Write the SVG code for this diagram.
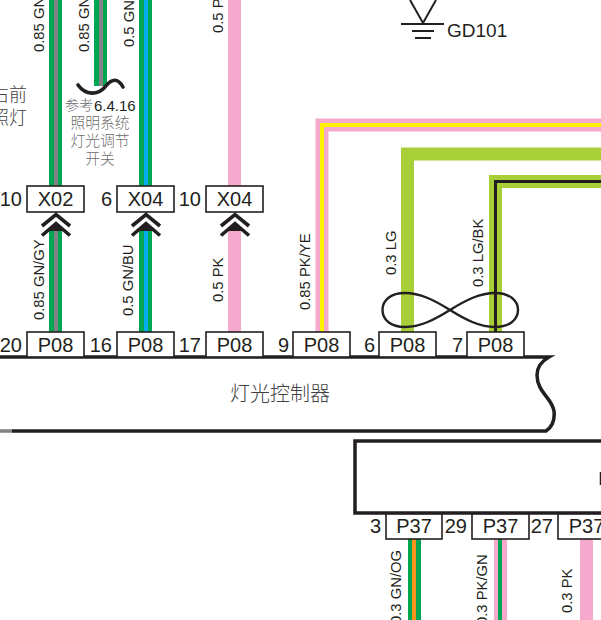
<svg xmlns="http://www.w3.org/2000/svg" width="601" height="620" viewBox="0 0 601 620">
<style>
text{font-family:"Liberation Sans",Arial,"Noto Sans CJK SC",sans-serif;fill:#231f20}
.box{fill:#fff;stroke:#231f20;stroke-width:1.6}
.name{font-size:20px;text-anchor:middle}
.pin{font-size:20px;text-anchor:end}
.lab{font-size:14.8px}
.cn{font-family:"Noto Sans CJK SC","Liberation Sans",sans-serif;font-weight:300;fill:#414042}
.w{fill:none;stroke-width:13;stroke-linejoin:miter}
.c{fill:none;stroke-width:4;stroke-linejoin:miter}
.gn{stroke:#00a651}.pk{stroke:#f5a9cc}.lg{stroke:#a8cf38}
.ln{fill:none;stroke:#231f20}
.chev{fill:none;stroke:#231f20;stroke-width:3.6}
</style>
<defs>
<g id="mate">
<path d="M-8 231 L0 222.500 L8 231 Z" fill="#231f20"/>
<path class="chev" d="M-14 226 L0 214.500 L14 226"/>
<path class="chev" d="M-14 235.500 L0 223.500 L14 235.500"/>
</g>
</defs>
<g id="connectors">
<path class="w gn" d="M55.500 0V186M55.500 231V332"/>
<path class="c" stroke="#808285" d="M56 0V186M56 231V332"/>
<path class="w gn" d="M100.500 0V86"/>
<path class="c" stroke="#808285" d="M101 0V86"/>
<path class="w gn" d="M145.500 0V186M145.500 231V332"/>
<path class="c" stroke="#00aeef" d="M146 0V186M146 231V332"/>
<path class="w pk" d="M234.500 0V186M234.500 231V332"/>
<path class="w pk" d="M322 332V125H601"/>
<path class="c" stroke="#fff200" d="M322 332V125H601"/>
<path class="w lg" d="M407.500 332V154H601"/>
<path class="w lg" d="M495.500 332V181.500H601"/>
<path class="ln" stroke-width="3" d="M495.500 332V181.500H601"/>
<path class="w gn" d="M414.500 539V620"/>
<path class="c" stroke="#f7941d" d="M414 539V620"/>
<path class="w pk" d="M500.500 539V620"/>
<path class="c" stroke="#00a651" d="M500 539V620"/>
<path class="w pk" d="M586.500 539V620"/>
<path id="squiggle" class="ln" stroke-width="3.600" stroke-linecap="round" d="M78 85C86 96 98 95 105 87C112 78 118 78 123 87"/>
<path id="twist" class="ln" stroke-width="2.400" d="M450 310C434 300 420 293 405 293C391 293 382.500 300 382.500 310C382.500 320 391 327 405 327C420 327 434 320 450 310C466 300 480 293 495 293C509 293 518 300 518 310C518 320 509 327 495 327C480 327 466 320 450 310Z"/>
<use href="#mate" x="56"/>
<use href="#mate" x="146"/>
<use href="#mate" x="235"/>
</g>
<g id="ground">
<path class="ln" stroke-width="2" d="M410 0L423 23L436 0"/>
<path class="ln" stroke-width="2" d="M401 24H444M412 31H434M415 38H431"/>
<text x="447" y="37" font-size="19">GD101</text>
</g>
<g id="labels">
<text class="lab" transform="translate(44 52) rotate(-90)">0.85 GN/GY</text>
<text class="lab" transform="translate(89 52) rotate(-90)">0.85 GN/GY</text>
<text class="lab" transform="translate(134 47) rotate(-90)">0.5 GN/BU</text>
<text class="lab" transform="translate(223 33) rotate(-90)">0.5 PK</text>
<text class="lab" transform="translate(44 320) rotate(-90)">0.85 GN/GY</text>
<text class="lab" transform="translate(133 316) rotate(-90)">0.5 GN/BU</text>
<text class="lab" transform="translate(223 302) rotate(-90)">0.5 PK</text>
<text class="lab" transform="translate(310 310) rotate(-90)">0.85 PK/YE</text>
<text class="lab" transform="translate(396 275) rotate(-90)">0.3 LG</text>
<text class="lab" transform="translate(483 287) rotate(-90)">0.3 LG/BK</text>
<text class="lab" transform="translate(401 624) rotate(-90)">0.3 GN/OG</text>
<text class="lab" transform="translate(487 625) rotate(-90)">0.3 PK/GN</text>
<text class="lab" transform="translate(572 613) rotate(-90)">0.3 PK</text>
</g>
<g id="note-left">
<text class="cn" x="27" y="101" font-size="18" text-anchor="end">右前</text>
<text class="cn" x="27" y="124" font-size="18" text-anchor="end">照灯</text>
</g>
<g id="note-ref">
<text class="cn" x="65" y="110" font-size="14" fill-opacity=".8">参考</text>
<text x="94" y="111" font-size="15">6.4.16</text>
<text class="cn" x="100" y="128" font-size="14.800" text-anchor="middle" fill-opacity=".8">照明系统</text>
<text class="cn" x="100" y="146" font-size="14.800" text-anchor="middle" fill-opacity=".8">灯光调节</text>
<text class="cn" x="100" y="164" font-size="14.800" text-anchor="middle" fill-opacity=".8">开关</text>
</g>
<g id="X02-10"><rect class="box" x="27" y="186" width="57" height="26"/><text class="name" x="55.500" y="206">X02</text><text class="pin" x="22" y="206">10</text></g>
<g id="X04-6"><rect class="box" x="117" y="186" width="57" height="26"/><text class="name" x="145.500" y="206">X04</text><text class="pin" x="112" y="206">6</text></g>
<g id="X04-10"><rect class="box" x="206" y="186" width="57" height="26"/><text class="name" x="234.500" y="206">X04</text><text class="pin" x="201" y="206">10</text></g>
<g id="controller">
<path fill="#fff" stroke="#231f20" stroke-width="3.500" d="M12 431H546C552 427 555 420 554 411C552 398 537 392 537 375C537 366 542 361 549 357H0"/>
<path stroke="#808285" stroke-width="3.500" d="M0 431H12"/>
<text class="cn" x="280" y="401" font-size="20" text-anchor="middle">灯光控制器</text>
</g>
<g id="P08-20"><rect class="box" x="27" y="332" width="57" height="25"/><text class="name" x="55.500" y="352">P08</text><text class="pin" x="22" y="352">20</text></g>
<g id="P08-16"><rect class="box" x="117" y="332" width="57" height="25"/><text class="name" x="145.500" y="352">P08</text><text class="pin" x="112" y="352">16</text></g>
<g id="P08-17"><rect class="box" x="206" y="332" width="57" height="25"/><text class="name" x="234.500" y="352">P08</text><text class="pin" x="201" y="352">17</text></g>
<g id="P08-9"><rect class="box" x="293" y="332" width="57" height="25"/><text class="name" x="321.500" y="352">P08</text><text class="pin" x="289" y="352">9</text></g>
<g id="P08-6"><rect class="box" x="379" y="332" width="57" height="25"/><text class="name" x="407.500" y="352">P08</text><text class="pin" x="375" y="352">6</text></g>
<g id="P08-7"><rect class="box" x="467" y="332" width="57" height="25"/><text class="name" x="495.500" y="352">P08</text><text class="pin" x="463" y="352">7</text></g>
<g id="module">
<path fill="#fff" stroke="#231f20" stroke-width="3.500" d="M601 441H355V513H601"/>
<path class="ln" stroke-width="1.500" d="M600.500 472V485"/>
</g>
<g id="P37-3"><rect class="box" x="386" y="514" width="56" height="25"/><text class="name" x="414" y="533">P37</text><text class="pin" x="381" y="533">3</text></g>
<g id="P37-29"><rect class="box" x="472" y="514" width="57" height="25"/><text class="name" x="500.500" y="533">P37</text><text class="pin" x="467" y="533">29</text></g>
<g id="P37-27"><rect class="box" x="558" y="514" width="57" height="25"/><text class="name" x="586.500" y="533">P37</text><text class="pin" x="553" y="533">27</text></g>
</svg>
